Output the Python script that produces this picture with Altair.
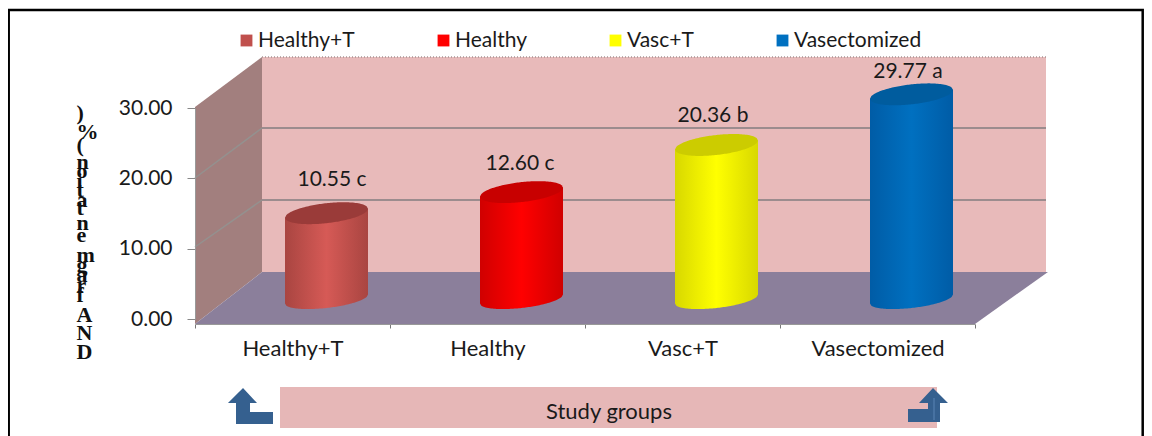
import numpy as np
import pandas as pd
import altair as alt

# ---------- values ----------
groups = ["Healthy+T", "Healthy", "Vasc+T", "Vasectomized"]
bar_heights = [12.2, 15.2, 21.9, 29.1]
value_labels = ["10.55 c", "12.60 c", "20.36 b", "29.77  a"]
label_levels = [19.8, 22.0, 28.8, 35.1]
y_ticks = [0, 10, 20, 30]
legend_colors = ["#C0504D", "#FF0000", "#FFFF00", "#0070C0"]
body_stops = [
    ["#A94541", "#D65A56", "#A94541"],
    ["#D00000", "#FF0000", "#D00000"],
    ["#D8D800", "#FFFF00", "#D8D800"],
    ["#005CA6", "#0070C0", "#005CA6"],
]
cap_colors = ["#9A3B39", "#C80000", "#CCCC00", "#005C9E"]
y_title_chars = list(")%(noitatnemgarfAND")
y_title_rows = [113, 132, 145, 162, 171, 181, 190, 200, 208, 223, 235, 255, 265, 275, 285, 295, 315, 333, 352]

# ---------- layout (image pixels) ----------
X0, X1, Y0, Y30 = 195.0, 975.0, 319.0, 108.0
K = (Y0 - Y30) / 30
W, H = X1 - X0, Y0 - Y30
UNIT = W / 4
PAGE_W, PAGE_H = 1136, 428


def ux(px):
    return (np.asarray(px, dtype=float) - X0) / UNIT


def vy(py):
    return (Y0 - np.asarray(py, dtype=float)) / K


XS = alt.Scale(domain=[0, 4], range=[0, W], nice=False, zero=False)
YS = alt.Scale(domain=[0, 30], range=[H, 0], nice=False, zero=False)
YAXIS = alt.Axis(
    values=y_ticks, format=".2f", tickSize=8, tickColor="#888", domainColor="#999", grid=False,
    labelFont="Lato", labelFontSize=21, labelColor="#1a1a1a", labelPadding=15, zindex=1, title=None,
)
X = alt.X("x:Q", scale=XS, axis=None)
Y = alt.Y("y:Q", scale=YS, axis=YAXIS, stack=None)
Y2 = alt.Y2("y2:Q")


def poly_area(xs, tops, bottoms, color, **kw):
    df = pd.DataFrame({"x": ux(xs), "y": vy(tops), "y2": vy(bottoms)})
    return alt.Chart(df).mark_area(color=color, clip=False, **kw).encode(x=X, y=Y, y2=Y2)


def segment(p, q, color, width, **kw):
    df = pd.DataFrame({"x": ux([p[0], q[0]]), "y": vy([p[1], q[1]])})
    return alt.Chart(df).mark_line(color=color, strokeWidth=width, clip=False, **kw).encode(x=X, y=Y)


# axes + legend, through the library's own band/linear scales
axis_df = pd.DataFrame({"group": groups, "v": [0, 0, 0, 0]})
axis_layer = alt.Chart(axis_df).mark_square(size=0).encode(
    x=alt.X(
        "group:N", sort=groups, title=None,
        scale=alt.Scale(paddingInner=0, paddingOuter=0),
        axis=alt.Axis(
            orient="bottom", offset=5, tickBand="extent", tickSize=4, tickColor="#777", domainColor="#999",
            labelAngle=0, labelFont="Lato", labelFontSize=22, labelColor="#1a1a1a", labelPadding=10, zindex=1,
        ),
    ),
    y=alt.Y("v:Q", scale=YS, axis=YAXIS),
    color=alt.Color(
        "group:N", sort=groups, scale=alt.Scale(domain=groups, range=legend_colors),
        legend=alt.Legend(
            title=None, orient="none", legendX=41, legendY=-78, direction="horizontal", columns=4,
            gridAlign="none", columnPadding=78, symbolType="square", symbolSize=140, symbolStrokeWidth=0,
            symbolOpacity=1, labelFont="Lato", labelFontSize=21, labelColor="#1a1a1a", labelOffset=1, padding=0,
        ),
    ),
)
layers = [axis_layer]

# walls and floor
layers.append(poly_area([262, 1046], [57, 57], [272, 272], "#E8BABA"))
layers.append(poly_area([195, 262], [107, 57], [324, 272], "#A27F7E"))
layers.append(poly_area([195, 262, 975, 1048], [324, 272, 272, 272], [324, 324, 324, 272], "#8B7F9B"))
layers.append(segment((262, 57), (1046, 57), "#A89494", 1.5, strokeDash=[1, 2]))

# grid lines
for yb, yf in [(128, 178), (200, 247)]:
    layers.append(segment((262, yb), (1046, yb), "#9C8C8E", 2))
    layers.append(segment((195, yf), (262, yb), "#94918F", 1.5))

# cylinders
BASE_PX = 299.0
HALF = 41.5
DEPTH = 34.0
for i, h in enumerate(bar_heights):
    cx = X0 + (i + 0.5) * UNIT + DEPTH
    d = np.linspace(-HALF, HALF, 61)
    s = np.sqrt(np.clip(1 - (d / HALF) ** 2, 0, 1))
    top_c = BASE_PX - h * K
    tilt = -4.5 * d / HALF
    grad = alt.Gradient(
        gradient="linear", x1=0, x2=1, y1=0, y2=0,
        stops=[
            alt.GradientStop(color=body_stops[i][0], offset=0),
            alt.GradientStop(color=body_stops[i][1], offset=0.5),
            alt.GradientStop(color=body_stops[i][2], offset=1),
        ],
    )
    layers.append(poly_area(cx + d, top_c + tilt, BASE_PX + tilt + 9 * s, grad))
    layers.append(poly_area(cx + d, top_c + tilt - 10 * s, top_c + tilt + 10 * s, cap_colors[i]))

# value labels
lab = pd.DataFrame({
    "x": [i + 0.5 + 33.5 / UNIT + o / UNIT for i, o in enumerate([6, -1, -3, -3])],
    "y": label_levels,
    "t": value_labels,
})
layers.append(alt.Chart(lab).mark_text(font="Lato", fontSize=21, color="#1a1a1a", clip=False).encode(x=X, y=Y, text="t:N"))

# bottom band and its title
layers.append(poly_area([280, 937], [387, 387], [428, 428], "#E6B7B7"))
layers.append(
    alt.Chart(pd.DataFrame({"x": ux([609]), "y": vy([412]), "t": ["Study groups"]}))
    .mark_text(font="Lato", fontSize=22, color="#1a1a1a").encode(x=X, y=Y, text="t:N")
)


def arrow(points, color="#35608F"):
    pts = np.array(points, dtype=float)
    c = (pts.max(axis=0) + pts.min(axis=0)) / 2
    span = (pts.max(axis=0) - pts.min(axis=0)).max()
    r = span / 2
    unit = (pts - c) / r
    path = "M" + "L".join(f"{a:.3f},{b:.3f}" for a, b in unit) + "Z"
    df = pd.DataFrame({"x": ux([c[0]]), "y": vy([c[1]])})
    return alt.Chart(df).mark_point(shape=path, size=span ** 2, filled=True, color=color, opacity=1, clip=False).encode(x=X, y=Y)


layers.append(arrow([(243, 388), (257, 403), (250, 403), (250, 412), (273, 412), (273, 424), (236, 424), (236, 403), (228, 403)]))
layers.append(arrow([(933, 388), (948, 403), (940, 403), (940, 422), (908, 422), (908, 409), (928, 409), (928, 403), (919, 403)]))
layers.append(segment((934, 398), (934, 420), "#5B84B5", 1))

# y title: stacked upright characters
yt = pd.DataFrame({"x": ux([76.5] * len(y_title_chars)), "y": vy(y_title_rows), "t": y_title_chars})
layers.append(
    alt.Chart(yt).mark_text(font="Liberation Serif", fontWeight="bold", fontSize=22, align="left", color="#111", clip=False)
    .encode(x=X, y=Y, text="t:N")
)

# frame
frame = pd.DataFrame({"x": ux([8.7]), "x2": ux([1142.7]), "y": vy([10]), "y2": vy([470])})
layers.append(
    alt.Chart(frame).mark_rect(fill=None, stroke="#000", strokeWidth=2.5, clip=False)
    .encode(x=X, x2=alt.X2("x2:Q"), y=Y, y2=Y2)
)

chart = (
    alt.layer(*layers)
    .resolve_scale(x="independent")
    .properties(
        width=W, height=H,
        padding={"left": X0 - 8, "top": Y30 - 8, "right": PAGE_W - (X0 - 8) - W, "bottom": PAGE_H - (Y30 - 8) - H},
        autosize=alt.AutoSizeParams(type="none"),
        background="white",
    )
    .configure_view(stroke=None)
)

chart.save("out.html", embed_options={"renderer": "svg", "actions": False})
